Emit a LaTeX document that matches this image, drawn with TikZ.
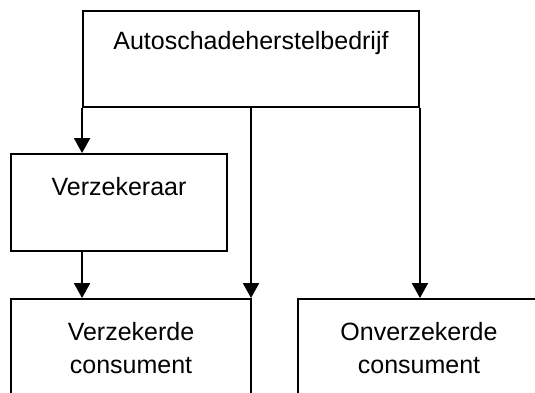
\documentclass[tikz,border=0pt]{standalone}
\usepackage{fontspec}
\setmainfont{Liberation Sans}
\usetikzlibrary{arrows.meta}
\begin{document}
\begin{tikzpicture}[x=1pt,y=-1pt,
  box/.style={draw, line width=1.9pt, minimum width=#1, inner sep=0pt},
  lbl/.style={font=\fontsize{25}{33}\selectfont, align=center, inner sep=0pt},
  arr/.style={line width=1.9pt, -{Triangle[width=16pt,length=15pt]}}]
\useasboundingbox (0,0) rectangle (535,392);
\clip (0,0) rectangle (535,392);
\node[box=336pt, minimum height=96pt] (top) at (251,59) {};
\node[box=216pt, minimum height=97pt] (verz) at (119,202.5) {};
\node[box=240pt, minimum height=96pt] (vc) at (131,347) {};
\node[box=242pt, minimum height=96pt] (oc) at (419,347) {};
\node[lbl] (ttop) at (251,43) {Autoschadeherstelbedrijf};
\node[lbl] (tverz) at (119,187) {Verzekeraar};
\node[lbl] (tvc) at (131,348.5) {Verzekerde\\consument};
\node[lbl] (toc) at (419,348.5) {Onverzekerde\\consument};
\draw[arr] (top.south west) -- (top.south west |- verz.north);
\draw[arr] (top.south) -- (top.south |- vc.north);
\draw[arr] (top.south east) -- (top.south east |- oc.north);
\draw[arr] (verz.south -| top.south west) -- (vc.north -| top.south west);
\end{tikzpicture}
\end{document}
